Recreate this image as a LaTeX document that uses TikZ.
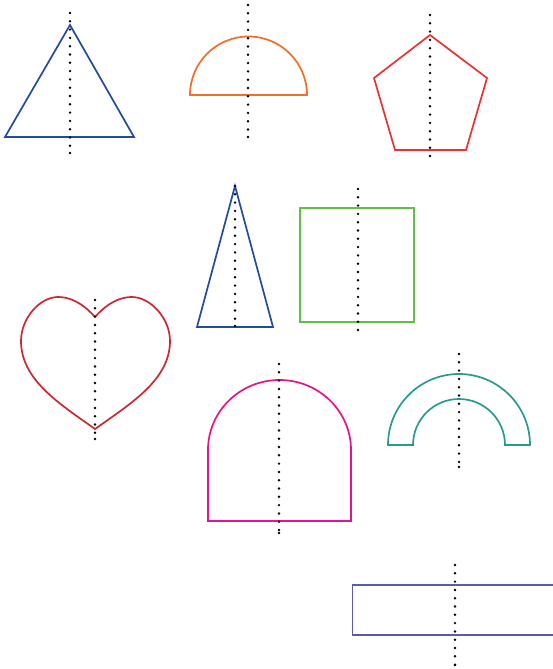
\documentclass[tikz,border=0pt]{standalone}
\begin{document}
\begin{tikzpicture}[x=1pt,y=-1pt,
  outline/.style={line width=1.7pt,line join=miter},
  axis/.style={black,line width=2.7pt,line cap=round,dash pattern=on 0pt off 8.3pt}]
\definecolor{cblue}{RGB}{35,75,160}
\definecolor{corange}{RGB}{240,110,40}
\definecolor{cred}{RGB}{235,50,50}
\definecolor{cheart}{RGB}{205,40,50}
\definecolor{cgreen}{RGB}{100,190,70}
\definecolor{cpink}{RGB}{230,20,140}
\definecolor{cteal}{RGB}{40,155,145}
\definecolor{cpurple}{RGB}{90,90,180}
\newcommand{\axisline}[2]{\draw[axis] (#1) -- (#2); \fill[black] (#2) circle (1.35pt);}
\useasboundingbox (0,0) rectangle (553,669);
% triangle
\draw[outline,cblue] (70,25) -- (134,137) -- (5,137) -- cycle;
\coordinate (a1) at (70,13); \coordinate (b1) at (70,153);
\axisline{a1}{b1}
% semicircle
\draw[outline,corange] (190,95) arc[start angle=180,end angle=360,radius=58.5] -- cycle;
\coordinate (a2) at (248,5); \coordinate (b2) at (248,137);
\axisline{a2}{b2}
% pentagon
\draw[outline,cred] (430,35) -- (487,78) -- (466,150) -- (395,150) -- (374,78) -- cycle;
\coordinate (a3) at (430,15); \coordinate (b3) at (430,156);
\axisline{a3}{b3}
% tall triangle
\draw[outline,cblue] (235,186) -- (273,327) -- (197,327) -- cycle;
\coordinate (a4) at (235,186); \coordinate (b4) at (235,326);
\axisline{a4}{b4}
% square
\draw[outline,cgreen] (300,208) rectangle (414,322);
\coordinate (a5) at (358,189); \coordinate (b5) at (358,330);
\axisline{a5}{b5}
% heart
\draw[outline,cheart] (95,429) .. controls (60,404) and (21,380) .. (21,341)
  .. controls (21,318) and (40,297) .. (58,297)
  .. controls (75,297) and (88,309) .. (95,317)
  .. controls (102,309) and (115,297) .. (132,297)
  .. controls (150,297) and (170,318) .. (170,341)
  .. controls (170,380) and (130,404) .. (95,429) -- cycle;
\coordinate (a6) at (95,300); \coordinate (b6) at (95,439);
\axisline{a6}{b6}
% arch
\draw[outline,cpink] (208,521) -- (208,450) arc[start angle=180,end angle=360,x radius=71.5,y radius=70] -- (351,521) -- cycle;
\coordinate (a7) at (279,364); \coordinate (b7) at (279,533);
\axisline{a7}{b7}
% rainbow
\draw[outline,cteal] (388,445) arc[start angle=180,end angle=360,radius=71] -- (505,445) arc[start angle=360,end angle=180,radius=46] -- cycle;
\coordinate (a8) at (459,354); \coordinate (b8) at (459,467);
\axisline{a8}{b8}
% rectangle
\draw[outline,cpurple] (560,585) -- (352.5,585) -- (352.5,635) -- (560,635);
\coordinate (a9) at (455,565); \coordinate (b9) at (455,665);
\axisline{a9}{b9}
\end{tikzpicture}
\end{document}
